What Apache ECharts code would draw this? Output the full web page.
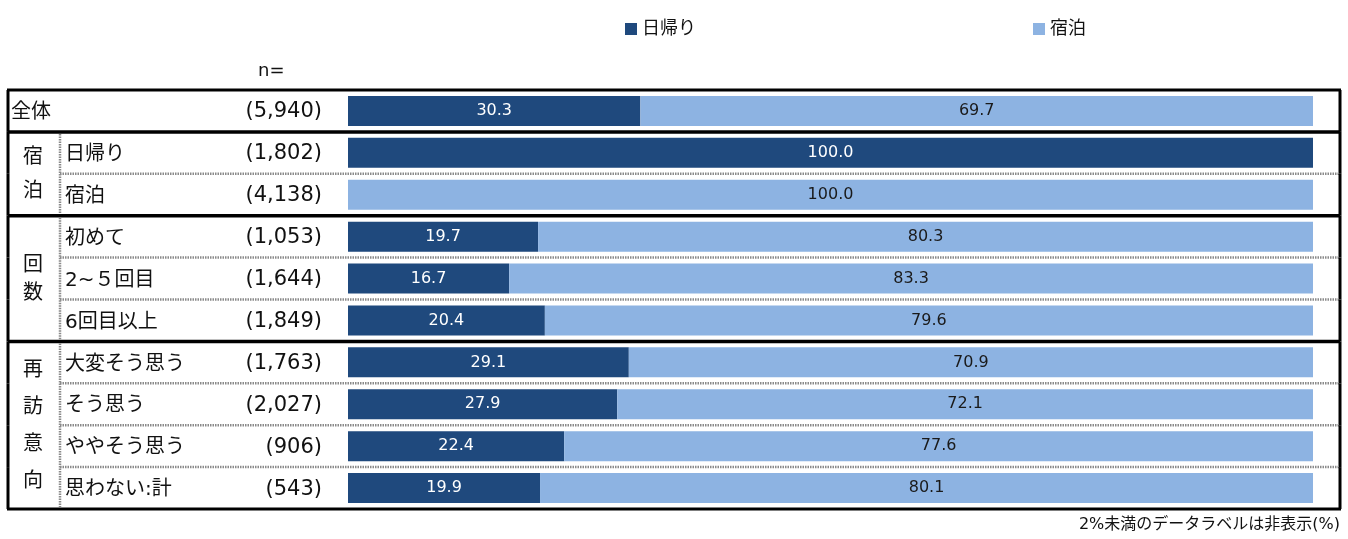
<!DOCTYPE html>
<html>
<head>
<meta charset="utf-8">
<script src="https://cdn.jsdelivr.net/npm/echarts@6/dist/echarts.min.js"></script>
<style>
  html, body { margin: 0; padding: 0; background: #fff; }
  #main { width: 1348px; height: 539px; }
</style>
</head>
<body>
<div id="main"></div>
<script>
// 行ラベル・n数・構成比
var categories = ['全体', '日帰り', '宿泊', '初めて', '2~５回目', '6回目以上', '大変そう思う', 'そう思う', 'ややそう思う', '思わない:計'];
var nCounts = ['(5,940)', '(1,802)', '(4,138)', '(1,053)', '(1,644)', '(1,849)', '(1,763)', '(2,027)', '(906)', '(543)'];
var daytrip = [30.3, 100.0, 0, 19.7, 16.7, 20.4, 29.1, 27.9, 22.4, 19.9];
var overnight = [69.7, 0, 100.0, 80.3, 83.3, 79.6, 70.9, 72.1, 77.6, 80.1];
var seriesNames = ['日帰り', '宿泊'];
// グループ見出し
var groupNames = ['宿泊', '回数', '再訪意向'];
var groupFrom = [1, 3, 6];
var groupTo = [2, 5, 9];

var FONT = "'DejaVu Sans', 'Noto Sans CJK JP', sans-serif";
var DARK = '#1F497D';
var LIGHT = '#8DB3E2';
var X_LEFT = 8, X_RIGHT = 1340, X_SUB = 60;
var DOT = { stroke: '#8a8a8a', lineWidth: 2.5, lineDash: [1.5, 1] };

var groupEnds = [0].concat(groupTo);

function hideSmall(p) {
    return p.value < 2 ? '' : p.value.toFixed(1);
}

function renderRow(params, api) {
    var i = api.value(1);
    var y = api.coord([0, i])[1];
    var h = api.size([0, 1])[1];
    var top = y - h / 2, bottom = y + h / 2;
    var kids = [];
    var nameX = i === 0 ? 11 : 65;
    kids.push({
        type: 'text',
        style: { text: categories[i], x: nameX, y: y + 2, verticalAlign: 'middle', font: '20px ' + FONT, fill: '#111' }
    });
    kids.push({
        type: 'text',
        style: { text: nCounts[i], x: 322, y: y + 1, align: 'right', verticalAlign: 'middle', font: '21px ' + FONT, fill: '#111' }
    });
    // 外枠(左右)
    kids.push({ type: 'line', shape: { x1: X_LEFT, y1: top, x2: X_LEFT, y2: bottom }, style: { stroke: '#000', lineWidth: 3 } });
    kids.push({ type: 'line', shape: { x1: X_RIGHT, y1: top, x2: X_RIGHT, y2: bottom }, style: { stroke: '#000', lineWidth: 3 } });
    if (i === 0) {
        kids.push({ type: 'line', shape: { x1: X_LEFT - 1, y1: top, x2: X_RIGHT + 1, y2: top }, style: { stroke: '#000', lineWidth: 3 } });
    }
    if (i === categories.length - 1) {
        kids.push({ type: 'line', shape: { x1: X_LEFT - 1, y1: bottom, x2: X_RIGHT + 1, y2: bottom }, style: { stroke: '#000', lineWidth: 3 } });
    } else if (groupEnds.indexOf(i) >= 0) {
        kids.push({ type: 'line', shape: { x1: X_LEFT, y1: bottom, x2: X_RIGHT, y2: bottom }, style: { stroke: '#000', lineWidth: 3.5 } });
    } else {
        kids.push({ type: 'line', shape: { x1: X_SUB, y1: bottom, x2: X_RIGHT, y2: bottom }, style: DOT });
    }
    return { type: 'group', children: kids };
}

function renderGroup(params, api) {
    var g = params.dataIndex;
    var h = api.size([0, 1])[1];
    var top = api.coord([0, groupFrom[g]])[1] - h / 2;
    var bottom = api.coord([0, groupTo[g]])[1] + h / 2;
    var lh = groupNames[g].length > 2 ? 37 : (groupNames[g] === '回数' ? 28 : 34);
    return {
        type: 'group',
        children: [
            {
                type: 'text',
                style: {
                    text: groupNames[g].split('').join('\n'), x: 33, y: (top + bottom) / 2 + 1,
                    align: 'center', verticalAlign: 'middle', font: '20px ' + FONT, lineHeight: lh, fill: '#111'
                }
            },
            { type: 'line', shape: { x1: X_SUB, y1: top + 2, x2: X_SUB, y2: bottom - 2 }, style: DOT }
        ]
    };
}

var option = {
    animation: false,
    backgroundColor: '#fff',
    textStyle: { fontFamily: FONT },
    legend: [
        { data: [seriesNames[0]], left: 625, top: 20, padding: 0, icon: 'rect', itemWidth: 12, itemHeight: 12, itemGap: 4, textStyle: { fontSize: 18, color: '#111', fontFamily: FONT } },
        { data: [seriesNames[1]], left: 1033, top: 20, padding: 0, icon: 'rect', itemWidth: 12, itemHeight: 12, itemGap: 4, textStyle: { fontSize: 18, color: '#111', fontFamily: FONT } }
    ],
    grid: { left: 348, right: 35, top: 90, bottom: 30 },
    xAxis: { type: 'value', min: 0, max: 100, show: false },
    yAxis: { type: 'category', data: categories, inverse: true, show: false },
    graphic: [
        { type: 'text', left: 258, top: 62, style: { text: 'n=', font: '18px ' + FONT, fill: '#111' } },
        { type: 'text', right: 8, top: 517, style: { text: '2%未満のデータラベルは非表示(%)', font: '16px ' + FONT, fill: '#111' } }
    ],
    series: [
        {
            name: seriesNames[0], type: 'bar', stack: 'all', barWidth: 30, data: daytrip,
            itemStyle: { color: DARK },
            label: { show: true, position: 'inside', formatter: hideSmall, color: '#fff', fontSize: 16, fontFamily: FONT }
        },
        {
            name: seriesNames[1], type: 'bar', stack: 'all', barWidth: 30, data: overnight,
            itemStyle: { color: LIGHT },
            label: { show: true, position: 'inside', formatter: hideSmall, color: '#1a1a1a', fontSize: 16, fontFamily: FONT }
        },
        {
            type: 'custom', clip: false, silent: true, z: 1,
            data: categories.map(function (c, i) { return [0, i]; }),
            encode: { x: 0, y: 1 },
            renderItem: renderRow
        },
        {
            type: 'custom', clip: false, silent: true, z: 1,
            data: groupNames.map(function (g, i) { return [0, groupFrom[i]]; }),
            encode: { x: 0, y: 1 },
            renderItem: renderGroup
        }
    ]
};

var myChart = echarts.init(document.getElementById('main'));
myChart.setOption(option);
</script>
</body>
</html>
